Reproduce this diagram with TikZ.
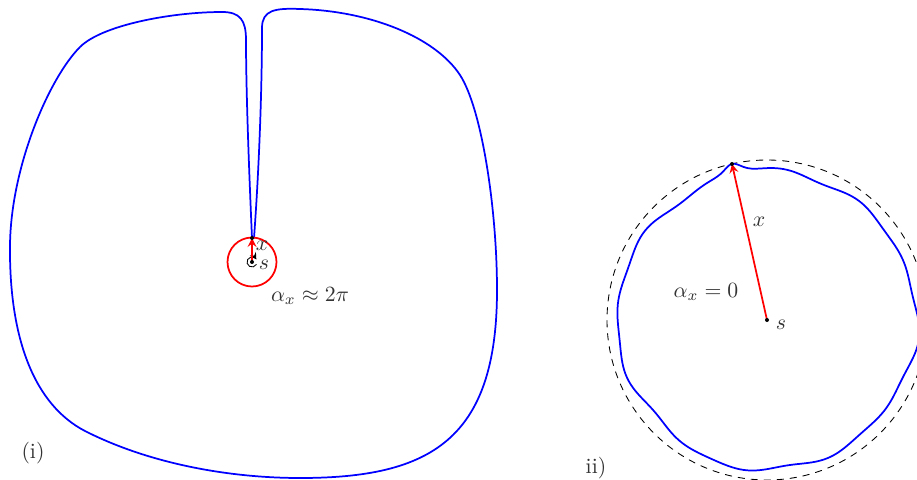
\documentclass[tikz,border=0pt]{standalone}
\begin{document}
\begin{tikzpicture}[line join=round, line cap=round, >=stealth, x=0.46pt, y=-0.46pt]
	\tikzset{declare function={b(\t)=(1/(1+((\t+102.6)/6)^2))^2; w(\t)=149+(1.6*sin(7*\t+40)+1.4*sin(12*\t+10)+1.2*sin(4*\t+70))*(1-b(\t))+11*b(\t);}}
	\tikzset{lbl/.style={text=black!80}}
	\useasboundingbox (0,0) rectangle (917,479);
	\clip (0,0) rectangle (917,479);
	% (i): slit domain
	\coordinate (s1) at (252,262);
	\coordinate (x1) at (252,238);
	\draw[blue, thick] (x1) .. controls (249,170) and (246,90) .. (246,40)
		.. controls (246,20) and (240,12) .. (222,12)
		.. controls (172,12) and (102,25) .. (80,47)
		.. controls (50,77) and (11,165) .. (10,245)
		.. controls (9,340) and (35,405) .. (85,431)
		.. controls (150,464) and (230,478) .. (300,478)
		.. controls (430,478) and (497,440) .. (497,290)
		.. controls (497,210) and (482,109) .. (460,75)
		.. controls (435,37) and (370,11) .. (300,9)
		.. controls (275,8) and (262,10) .. (262,28)
		.. controls (262,90) and (259,170) .. (254,238) -- cycle;
	\draw[red, thick] (s1) circle (24.5);
	\draw[->] (s1) ++(30:5) arc (30:330:5);
	\draw[red, thick, ->] (s1) -- (x1);
	\fill (s1) circle (2) (x1) circle (2);
	\node[lbl, inner sep=1pt] (lx1) at (262,246) {$x$};
	\node[lbl, inner sep=1pt] (ls1) at (264,265) {$s$};
	\node[lbl] (a1) at (310,296) {$\alpha_x\approx 2\pi$};
	\node[lbl] (t1) at (33,453) {(i)};
	% ii): star-shaped domain
	\coordinate (s2) at (767,320);
	\coordinate (x2) at (732,164);
	\draw[dashed] (s2) circle (160);
	\draw[blue, thick, shift={(767,320)}] plot[domain=-270:89, samples=240, smooth cycle] (\x:{w(\x)});
	\draw[red, thick, ->] (s2) -- (x2);
	\fill (s2) circle (2) (x2) circle (2);
	\node[lbl] (lx2) at (759,222) {$x$};
	\node[lbl] (ls2) at (781,325) {$s$};
	\node[lbl] (a2) at (706,292) {$\alpha_x=0$};
	\node[lbl] (t2) at (596,468) {ii)};
\end{tikzpicture}
\end{document}
